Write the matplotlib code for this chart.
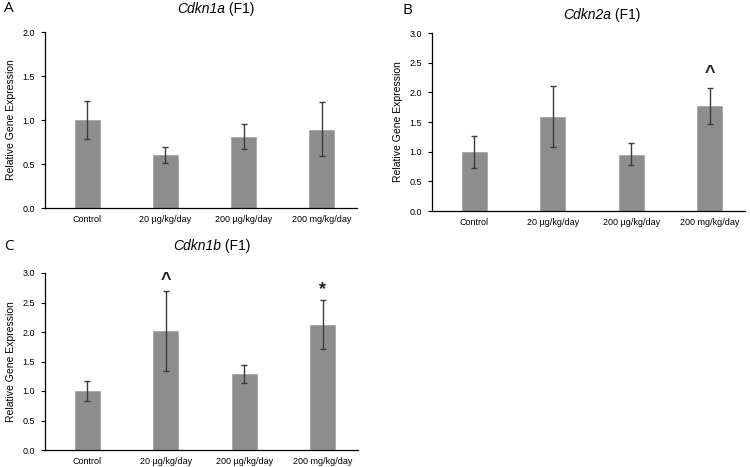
import matplotlib.pyplot as plt

plt.rcParams['font.family'] = ['Liberation Sans', 'DejaVu Sans']

groups = ['Control', '20 µg/kg/day', '200 µg/kg/day', '200 mg/kg/day']

cdkn1a = [1.00, 0.60, 0.81, 0.89]
cdkn1a_lo = [0.78, 0.51, 0.67, 0.59]
cdkn1a_hi = [1.22, 0.69, 0.96, 1.20]

cdkn2a = [1.00, 1.59, 0.95, 1.77]
cdkn2a_lo = [0.73, 1.08, 0.77, 1.46]
cdkn2a_hi = [1.27, 2.11, 1.14, 2.08]

cdkn1b = [1.00, 2.01, 1.29, 2.12]
cdkn1b_lo = [0.83, 1.34, 1.14, 1.72]
cdkn1b_hi = [1.17, 2.69, 1.44, 2.54]

# significance marks: (group index, y, symbol)
marks_2a = [(3, 2.18, '^')]
marks_1b = [(1, 2.73, '^'), (3, 2.58, '*')]

W, H = 750, 467
fig = plt.figure(figsize=(7.5, 4.67), dpi=100)


def px_axes(x0, y_top, x1, y_bot):
    return fig.add_axes([x0 / W, 1 - y_bot / H, (x1 - x0) / W, (y_bot - y_top) / H])


def panel(ax, vals, lo, hi, ymax, marks):
    x = range(len(groups))
    yerr = [[v - l for v, l in zip(vals, lo)], [h - v for v, h in zip(vals, hi)]]
    ax.bar(x, vals, width=0.32, color='#8e8e8e', edgecolor='#a5a5a5', linewidth=0.6, zorder=2)
    ax.errorbar(x, vals, yerr=yerr, fmt='none', ecolor='#3c3c3c', elinewidth=1.0,
                capsize=2.2, capthick=1.0, zorder=3)
    for i, y, s in marks:
        ax.text(i, y, s, ha='center', va='bottom', fontsize=13,
                fontweight='bold', color='#202020')
    ax.set_xlim(-0.54, 3.45)
    ax.set_ylim(0, ymax)
    n = int(ymax / 0.5) + 1
    ax.set_yticks([i * 0.5 for i in range(n)])
    ax.set_yticklabels([f'{i * 0.5:.1f}' for i in range(n)])
    ax.set_xticks(list(x))
    ax.set_xticklabels(groups)
    ax.tick_params(axis='x', length=0, labelsize=6.5, pad=5)
    ax.tick_params(axis='y', length=3, width=0.8, labelsize=6.5, pad=4)
    for s in ['top', 'right']:
        ax.spines[s].set_visible(False)
    for s in ['left', 'bottom']:
        ax.spines[s].set_linewidth(0.9)
    ax.set_ylabel('Relative Gene Expression', fontsize=7.5, labelpad=5)


axA = px_axes(45, 32, 357, 208)
panel(axA, cdkn1a, cdkn1a_lo, cdkn1a_hi, 2.0, [])
axB = px_axes(432, 33, 745, 211)
panel(axB, cdkn2a, cdkn2a_lo, cdkn2a_hi, 3.0, marks_2a)
axC = px_axes(45, 273, 358, 450)
panel(axC, cdkn1b, cdkn1b_lo, cdkn1b_hi, 3.0, marks_1b)

# titles: italic gene name followed by upright " (F1)", centred as one
titles = [(216, 9, 'Cdkn1a'), (602, 15, 'Cdkn2a'), (212, 246, 'Cdkn1b')]
renderer = fig.canvas.get_renderer()
for tx, ty, gene in titles:
    t1 = fig.text(0, 1 - ty / H, gene, ha='left', va='center', fontsize=10, style='italic')
    t2 = fig.text(0, 1 - ty / H, '\u00a0(F1)', ha='left', va='center', fontsize=10)
    w1 = t1.get_window_extent(renderer).width
    w2 = t2.get_window_extent(renderer).width
    x0 = tx - (w1 + w2) / 2
    t1.set_x(x0 / W)
    t2.set_x((x0 + w1) / W)

letters = [(4, 9, 'A'), (402, 11, 'B'), (4, 247, 'C')]
for lx, ly, l in letters:
    fig.text(lx / W, 1 - ly / H, l, ha='left', va='center', fontsize=11, family='Open Sans')

fig.savefig('out.png', dpi=100)
